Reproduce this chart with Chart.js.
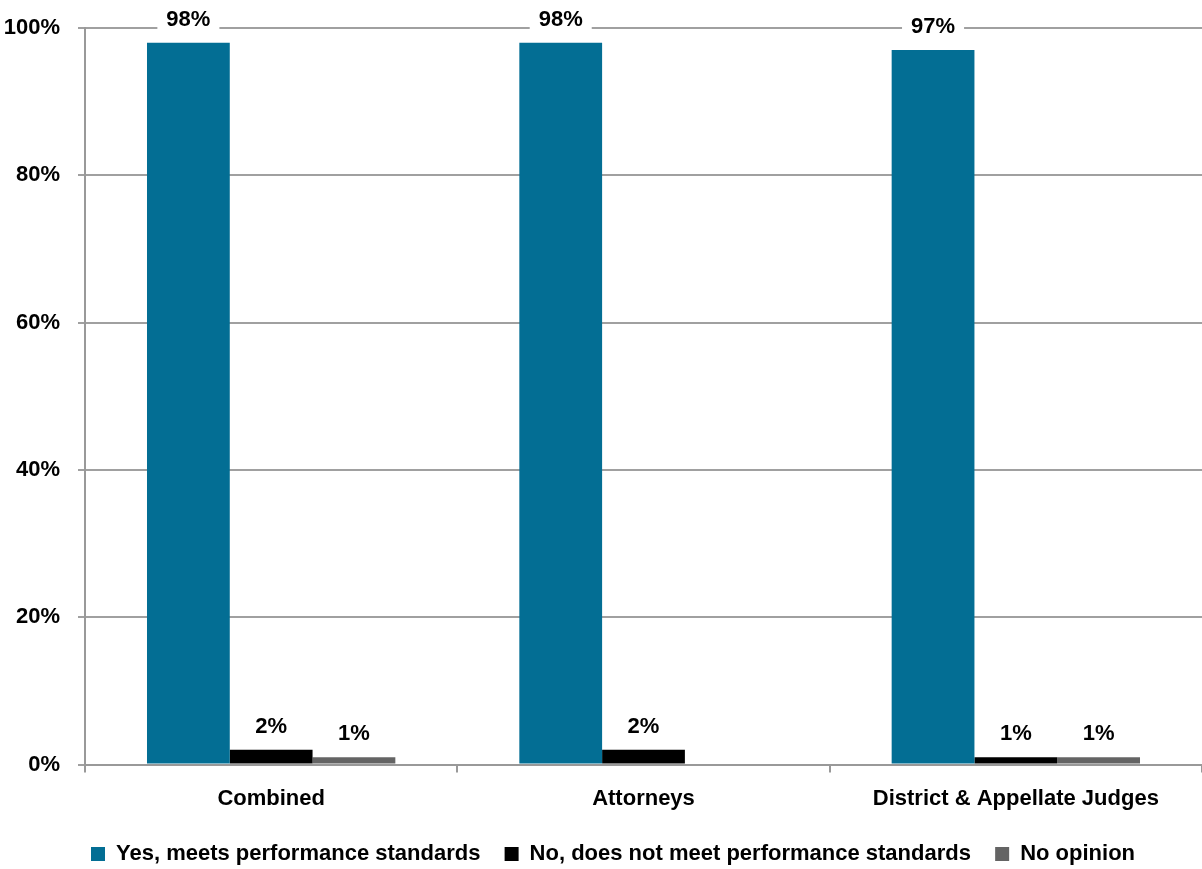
<!DOCTYPE html>
<html>
<head>
<meta charset="utf-8">
<script src="https://cdn.jsdelivr.net/npm/chart.js@4/dist/chart.umd.min.js"></script>
<style>
    html, body { margin: 0; padding: 0; background: #fff; }
    #wrap { width: 1202px; height: 869px; }
</style>
</head>
<body>
<div id="wrap"><canvas id="chart"></canvas></div>
<script>
const categories = ['Combined', 'Attorneys', 'District & Appellate Judges']
const yesValues = [98, 98, 97]
const noValues = [2, 2, 1]
const noOpinionValues = [1, null, 1]
const seriesNames = ['Yes, meets performance standards', 'No, does not meet performance standards', 'No opinion']

const fontFamily = '"Liberation Sans Narrow", "Arial Narrow", "Liberation Sans", sans-serif'
const fontSize = 22

// value labels on a white box above each bar
const barLabels = {
    id: 'barLabels',
    afterLayout(chart) {
        // legend in the original sits a bit right of centre and lower
        chart.legend.left += 12
        chart.legend.right += 12
        chart.legend.top += 6
        chart.legend.bottom += 6
    },
    afterDatasetsDraw(chart) {
        const ctx = chart.ctx
        ctx.save()
        ctx.font = `bold ${fontSize}px ${fontFamily}`
        ctx.textAlign = 'center'
        ctx.textBaseline = 'middle'
        chart.data.datasets.forEach((dataset, i) => {
            const meta = chart.getDatasetMeta(i)
            meta.data.forEach((bar, j) => {
                const value = dataset.data[j]
                if (value === null || value === undefined) return
                const text = value + '%'
                const w = ctx.measureText(text).width
                const y = bar.y - 23
                ctx.fillStyle = '#fff'
                ctx.fillRect(bar.x - w / 2 - 9, y - 13, w + 18, 26)
                ctx.fillStyle = '#000'
                ctx.fillText(text, bar.x, y)
            })
        })
        ctx.restore()
    }
}

const chartOptions = {
    type: 'bar',
    data: {
        labels: categories,
        datasets: [
            { label: seriesNames[0], data: yesValues, backgroundColor: '#036E94' },
            { label: seriesNames[1], data: noValues, backgroundColor: '#000000' },
            { label: seriesNames[2], data: noOpinionValues, backgroundColor: '#646464' }
        ]
    },
    options: {
        responsive: true,
        maintainAspectRatio: false,
        animation: false,
        datasets: {
            bar: { categoryPercentage: 0.667, barPercentage: 1.0 }
        },
        layout: { padding: { top: 28, right: 0, left: 0, bottom: 0 } },
        plugins: {
            tooltip: { enabled: false },
            legend: {
                position: 'bottom',
                labels: {
                    boxWidth: 14,
                    boxHeight: 14,
                    padding: 12,
                    color: '#000',
                    font: { family: fontFamily, size: fontSize, weight: 'bold' },
                    generateLabels(chart) {
                        const items = Chart.defaults.plugins.legend.labels.generateLabels(chart)
                        // a little extra room between the entries
                        items.forEach((item, i) => {
                            if (i < items.length - 1) item.text += '  '
                        })
                        return items
                    }
                }
            }
        },
        scales: {
            x: {
                grid: {
                    drawOnChartArea: false,
                    drawTicks: true,
                    tickLength: 8,
                    color: '#999',
                    lineWidth: 2
                },
                border: { color: '#999', width: 2 },
                ticks: {
                    color: '#000',
                    padding: 13,
                    font: { family: fontFamily, size: fontSize, weight: 'bold' }
                }
            },
            y: {
                min: 0,
                max: 100,
                afterFit(scale) {
                    scale.width = 85
                    scale.paddingTop = 0
                    scale.paddingBottom = 0
                },
                grid: { color: '#a0a0a0', lineWidth: 2, tickLength: 7 },
                border: { color: '#999', width: 2 },
                ticks: {
                    stepSize: 20,
                    color: '#000',
                    padding: 18,
                    callback: v => v + '%',
                    font: { family: fontFamily, size: fontSize, weight: 'bold' }
                }
            }
        }
    },
    plugins: [barLabels]
}

new Chart(document.getElementById('chart'), chartOptions)
</script>
</body>
</html>
